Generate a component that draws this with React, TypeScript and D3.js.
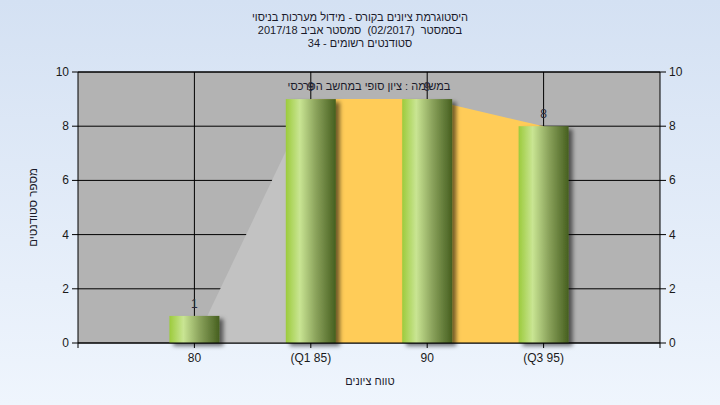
import React from "react";
import * as d3 from "d3";

const titleLines = [
  "היסטוגרמת ציונים בקורס - מידול מערכות בניסוי",
  "בסמסטר\u00A0\u00A0(02/2017)\u00A0\u00A0סמסטר אביב 2017/18",
  "סטודנטים רשומים - 34",
];
const plotSubtitle = "במשימה : ציון סופי במחשב הפרכסי";
const xAxisTitle = "טווח ציונים";
const yAxisTitle = "מספר סטודנטים";

const categories = ["80", "(Q1 85)", "90", "(Q3 95)"];
const gradeValues = [80, 85, 90, 95];
const counts = [1, 9, 9, 8];

const lowerAreaX = [80, 85];
const lowerAreaY = [0, 9];
const iqrAreaX = [85, 90, 95];
const iqrAreaY = [9, 9, 8];

const yTicks = [0, 2, 4, 6, 8, 10];
const xDomain = [75, 100];
const yDomain = [0, 10];

const W = 720;
const H = 405;
const M = { left: 78, right: 660, top: 72, bottom: 343 };
const BAR_W = 50;
const FONT = "'Liberation Sans', Arial, 'DejaVu Sans', sans-serif";

export default function App() {
  const x = d3.scaleLinear().domain(xDomain).range([M.left, M.right]);
  const y = d3.scaleLinear().domain(yDomain).range([M.bottom, M.top]);

  const area = d3
    .area<[number, number]>()
    .x((d) => x(d[0]))
    .y0(y(0))
    .y1((d) => y(d[1]));

  const lowerPts = lowerAreaX.map((v, i) => [v, lowerAreaY[i]] as [number, number]);
  const iqrPts = iqrAreaX.map((v, i) => [v, iqrAreaY[i]] as [number, number]);

  return (
    <svg
      width={W}
      height={H}
      style={{ position: "absolute", left: 0, top: 0, display: "block" }}
      fontFamily={FONT}
    >
      <defs>
        <linearGradient id="bg" x1="0" y1="0" x2="0" y2="1">
          <stop offset="0" stopColor="#d4e1f3" />
          <stop offset="1" stopColor="#eff5fd" />
        </linearGradient>
        <linearGradient id="bar" x1="0" y1="0" x2="1" y2="0">
          <stop offset="0" stopColor="#9ccb3c" />
          <stop offset="0.28" stopColor="#c9e593" />
          <stop offset="0.6" stopColor="#8ba35c" />
          <stop offset="1" stopColor="#465f1f" />
        </linearGradient>
        <filter id="shadow" x="-30%" y="-30%" width="160%" height="160%">
          <feDropShadow dx="4" dy="3" stdDeviation="2" floodColor="#000" floodOpacity="0.55" />
        </filter>
      </defs>
      <rect x={0} y={0} width={W} height={H} fill="url(#bg)" />

      {/* Title */}
      {titleLines.map((t, i) => (
        <text
          key={i}
          x={360}
          y={21 + i * 13}
          textAnchor="middle"
          direction="rtl"
          fontSize={11}
          fill="#1a1a2a"
        >
          {t}
        </text>
      ))}

      {/* Plot background */}
      <rect x={M.left} y={M.top} width={M.right - M.left} height={M.bottom - M.top} fill="#b3b3b3" />

      {/* Grid */}
      {yTicks.map((t) => (
        <line key={"gy" + t} x1={M.left} x2={M.right} y1={y(t)} y2={y(t)} stroke="#000" strokeWidth={1} />
      ))}
      {gradeValues.map((g) => (
        <line key={"gx" + g} x1={x(g)} x2={x(g)} y1={M.top} y2={M.bottom} stroke="#000" strokeWidth={1} />
      ))}

      {/* Areas */}
      <path d={area(lowerPts) || ""} fill="#c2c2c2" />
      <path d={area(iqrPts) || ""} fill="#ffcc58" />

      {/* Bars */}
      {gradeValues.map((g, i) => (
        <rect
          key={"b" + g}
          x={x(g) - BAR_W / 2}
          y={y(counts[i])}
          width={BAR_W}
          height={y(0) - y(counts[i])}
          fill="url(#bar)"
          filter="url(#shadow)"
        />
      ))}

      {/* Plot subtitle */}
      <text
        x={(M.left + M.right) / 2}
        y={90}
        textAnchor="middle"
        direction="rtl"
        fontSize={11}
        fill="#1a1a2a"
      >
        {plotSubtitle}
      </text>

      {/* Value labels */}
      {gradeValues.map((g, i) => (
        <text key={"v" + g} x={x(g)} y={y(counts[i]) - 8} textAnchor="middle" fontSize={12} fill="#2a2a3a">
          {counts[i]}
        </text>
      ))}

      {/* Frame */}
      <line x1={M.left} x2={M.right} y1={M.top} y2={M.top} stroke="#000" />
      <line x1={M.left} x2={M.right} y1={M.bottom} y2={M.bottom} stroke="#000" />
      <line x1={M.left} x2={M.left} y1={M.top} y2={M.bottom + 5} stroke="#000" />
      <line x1={M.right} x2={M.right} y1={M.top} y2={M.bottom + 5} stroke="#000" />

      {/* Y axes */}
      {yTicks.map((t) => (
        <g key={"yt" + t}>
          <line x1={M.left - 6} x2={M.left} y1={y(t)} y2={y(t)} stroke="#000" />
          <text x={M.left - 9} y={y(t) + 4} textAnchor="end" fontSize={12} fill="#1a1a1a">
            {t}
          </text>
          <line x1={M.right} x2={M.right + 6} y1={y(t)} y2={y(t)} stroke="#000" />
          <text x={M.right + 9} y={y(t) + 4} textAnchor="start" fontSize={12} fill="#1a1a1a">
            {t}
          </text>
        </g>
      ))}

      {/* X axis */}
      {gradeValues.map((g, i) => (
        <g key={"xt" + g}>
          <line x1={x(g)} x2={x(g)} y1={M.bottom} y2={M.bottom + 5} stroke="#000" />
          <text x={x(g)} y={M.bottom + 19} textAnchor="middle" fontSize={12} fill="#1a1a1a" direction="ltr">
            {categories[i]}
          </text>
        </g>
      ))}

      {/* Axis titles */}
      <text x={370} y={385} textAnchor="middle" direction="rtl" fontSize={11} fill="#1a1a2a">
        {xAxisTitle}
      </text>
      <text
        transform={`translate(37,${(M.top + M.bottom) / 2}) rotate(-90)`}
        textAnchor="middle"
        direction="rtl"
        fontSize={11.5}
        fill="#1a1a2a"
      >
        {yAxisTitle}
      </text>
    </svg>
  );
}
